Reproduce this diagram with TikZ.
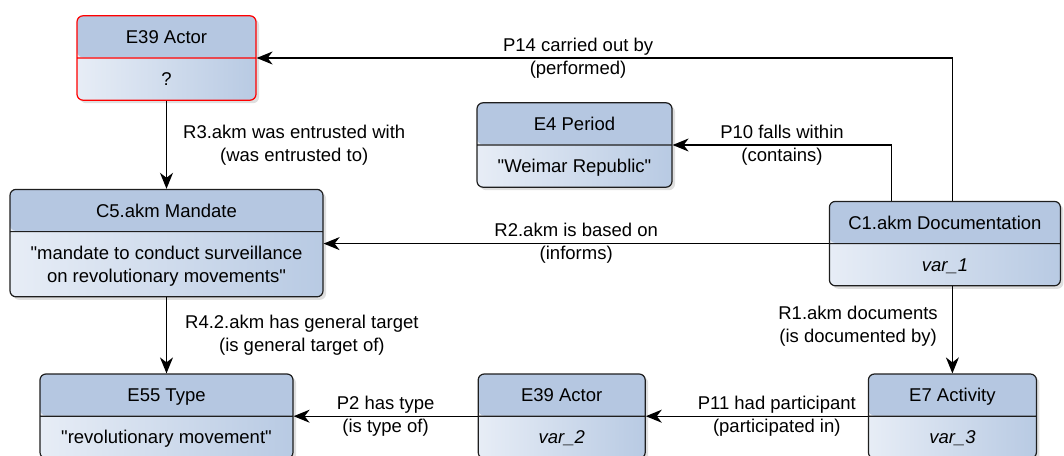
\documentclass[tikz,border=0pt]{standalone}
\usepackage{fontspec}
\setmainfont{Liberation Sans}[Ligatures=TeXOff]
\usepackage{xcolor}
\usetikzlibrary{arrows.meta,positioning,shapes.multipart,shadows}

\definecolor{hdrblue}{HTML}{B5C7E1}
\definecolor{valleft}{HTML}{E7EDF6}
\definecolor{valright}{HTML}{B8CAE3}
\definecolor{edgegray}{HTML}{1E1E1E}

\newcommand{\linestrut}{\rule[-5pt]{0pt}{23pt}}

\begin{document}
\begin{tikzpicture}[
    x=1pt, y=-1pt,
    font=\fontsize{18.5}{23}\selectfont,
    entity/.style={rectangle split, rectangle split parts=2, draw=edgegray, line width=1.2pt, rounded corners=6pt, align=center, inner xsep=6pt, inner ysep=9pt, minimum height=83pt,
        drop shadow={shadow xshift=3pt, shadow yshift=-3pt, opacity=0.25},
        path picture={
            \shade[left color=valleft, right color=valright] (path picture bounding box.south west) rectangle (path picture bounding box.north east);
            \fill[hdrblue] (path picture bounding box.north west) rectangle ([yshift=-41.5pt]path picture bounding box.north east);
        }},
    hilite/.style={draw=red},
    arrow/.style={-{Stealth[length=16pt, width=13pt, inset=5pt]}, line width=1.3pt},
    rel/.style={align=center, inner sep=2pt}
]
\useasboundingbox (0,0) rectangle (1064,455);

\node[entity, hilite, minimum width=179pt] (actor) at (166.5,58) {\linestrut E39 Actor \nodepart{two}\linestrut ?};
\node[entity, minimum width=313pt, minimum height=111pt, below=88pt of actor] (mandate) {\linestrut C5.akm Mandate \nodepart{two}\linestrut "mandate to conduct surveillance\\on revolutionary movements"\linestrut};
\node[entity, minimum width=253pt, below=76pt of mandate] (gtype) {\linestrut E55 Type \nodepart{two}\linestrut "revolutionary movement"};
\node[entity, minimum width=167pt, right=184pt of gtype] (actor_b) {\linestrut E39 Actor \nodepart{two}\linestrut \textit{var\_2}};
\node[entity, minimum width=168pt, right=222pt of actor_b] (activity) {\linestrut E7 Activity \nodepart{two}\linestrut \textit{var\_3}};
\node[entity, minimum width=231pt, above=87pt of activity, xshift=-7.5pt] (doc) {\linestrut C1.akm Documentation \nodepart{two}\linestrut \textit{var\_1}};
\node[entity, minimum width=195pt] (period) at (574.5,145) {\linestrut E4 Period \nodepart{two}\linestrut "Weimar Republic"};

\draw[arrow] (doc.north -| activity.north) |- (actor.east) node[rel, pos=0.769] {P14 carried out by\\(performed)};
\draw[arrow] ([xshift=-53.5pt]doc.north) |- (period.east) node[rel, pos=0.75] {P10 falls within\\(contains)};
\draw[arrow] (doc.west) -- (doc.west -| mandate.east) node[rel, midway] {R2.akm is based on\\(informs)};
\draw[arrow] (actor.south) -- (mandate.north) node[rel, midway, right=14pt] {R3.akm was entrusted with\\(was entrusted to)};
\draw[arrow] (mandate.south) -- (gtype.north) node[rel, midway, right=16pt] {R4.2.akm has general target\\(is general target of)};
\draw[arrow] (doc.south -| activity.north) -- (activity.north) node[rel, midway, left=12pt, yshift=4pt] {R1.akm documents\\(is documented by)};
\draw[arrow] (activity.west) -- (actor_b.east) node[rel, pos=0.41] {P11 had participant\\(participated in)};
\draw[arrow] (actor_b.west) -- (gtype.east) node[rel, midway] {P2 has type\\(is type of)};
\end{tikzpicture}
\end{document}
